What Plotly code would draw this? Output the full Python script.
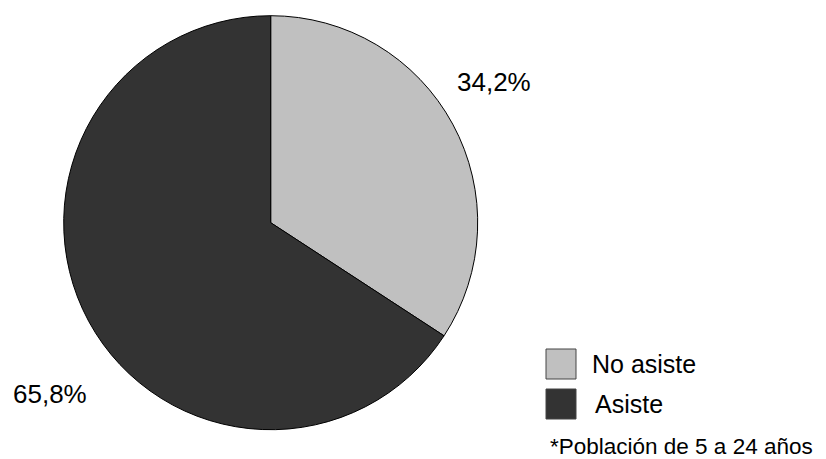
import plotly.graph_objects as go

categories = ["No asiste", "Asiste"]
values = [34.2, 65.8]
colors = ["#c0c0c0", "#333333"]
footnote = "*Población de 5 a 24 años"

W, H = 826, 459
cx, cy, r = 270.7, 222.7, 207


def px(x):
    return x / W


def py(y):
    return 1 - y / H


fig = go.Figure(go.Pie(
    labels=categories, values=values, sort=False, direction="clockwise",
    rotation=0, marker=dict(colors=colors, line=dict(color="#000000", width=1)),
    textinfo="none", hoverinfo="label+percent", showlegend=False,
    domain=dict(x=[px(cx - r), px(cx + r)], y=[py(cy + r), py(cy - r)]),
))

font = "Liberation Sans, Arial, sans-serif"
labels_pos = [(494, 82), (50, 394)]
annotations = []
for v, (x, y) in zip(values, labels_pos):
    annotations.append(dict(
        x=px(x), y=py(y), xref="paper", yref="paper", showarrow=False,
        text=f"{v:.1f}%".replace(".", ","), xanchor="center", yanchor="middle",
        font=dict(family=font, size=26, color="#000000")))

shapes = []
legend_rows = [(349, 590), (389, 593)]
for cat, col, (y0, tx) in zip(categories, colors, legend_rows):
    shapes.append(dict(type="rect", xref="paper", yref="paper",
                       x0=px(546), x1=px(576), y0=py(y0 + 30), y1=py(y0),
                       fillcolor=col, line=dict(color="#444444", width=1)))
    annotations.append(dict(
        x=px(tx), y=py(y0 + 15), xref="paper", yref="paper", showarrow=False,
        text=cat, xanchor="left", yanchor="middle",
        font=dict(family=font, size=25, color="#000000")))

annotations.append(dict(
    x=px(549), y=py(446), xref="paper", yref="paper", showarrow=False,
    text=footnote, xanchor="left", yanchor="middle", borderpad=0,
    font=dict(family=font, size=22.5, color="#000000")))

fig.update_layout(
    width=W, height=H, margin=dict(l=0, r=0, t=0, b=0),
    paper_bgcolor="#ffffff", plot_bgcolor="#ffffff",
    annotations=annotations, shapes=shapes, showlegend=False,
)

fig.write_html("out.html")
